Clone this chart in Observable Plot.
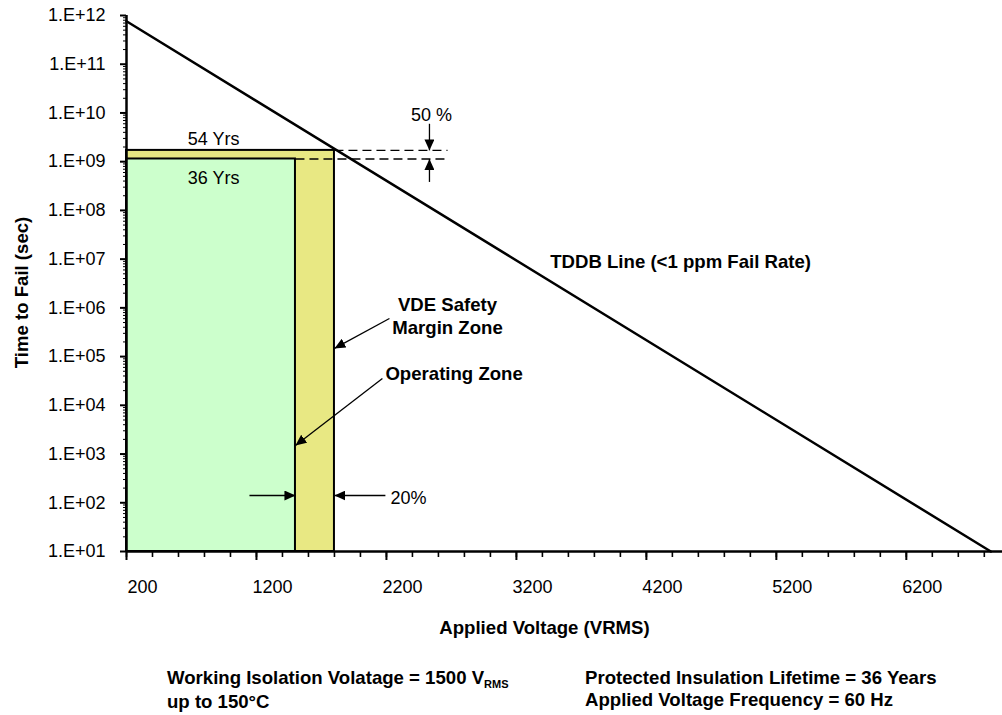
<!DOCTYPE html>
<html><head><meta charset="utf-8">
<script src="https://cdn.jsdelivr.net/npm/d3@7"></script>
<script src="https://cdn.jsdelivr.net/npm/@observablehq/plot@0.6"></script>
<style>
body{margin:0;background:#fff;font-family:"Liberation Sans",Arial,sans-serif;}
#wrap{position:relative;width:1002px;height:715px;overflow:hidden;}
.note{position:absolute;font-weight:bold;font-size:18.6px;line-height:22px;white-space:nowrap;color:#000;}
.sub{font-size:11px;position:relative;top:4px;}
</style></head><body>
<div id="wrap"><div id="chart"></div>
<div class="note" style="left:167px;top:667px">Working Isolation Volatage = 1500 V<span class="sub">RMS</span><br>up to 150°C</div>
<div class="note" style="left:585px;top:667px">Protected Insulation Lifetime = 36 Years<br>Applied Voltage Frequency = 60 Hz</div>
</div>
<script>
// ---- data ----
const xMajorTicks = [200, 1200, 2200, 3200, 4200, 5200, 6200];
const xMinorTicks = d3.range(200, 7000, 200);
const yDecadeTicks = [1e1, 1e2, 1e3, 1e4, 1e5, 1e6, 1e7, 1e8, 1e9, 1e10, 1e11, 1e12];
const yMinorTicks = yDecadeTicks.slice(0, -1).flatMap(d => [2,3,4,5,6,7,8,9].map(k => k * d));

const tddbVoltage = [200, 6850];
const tddbTimeSec = [7.6e11, 10];

const SECONDS_PER_YEAR = 3.15576e7;
const zoneNames = ["VDE Safety Margin Zone", "Operating Zone"];
const zoneVoltage = [1800, 1500];
const zoneYears = [54, 36];
const zoneFills = ["#e8e883", "#ccffcc"];
const zoneFloor = 10;

const labelText = ["54 Yrs", "36 Yrs", "50 %", "20%"];
const labelVoltage = [870, 870, 2546, 2231];
const labelTime = [3.1e9, 5.0e8, 9.6e9, 135];
const labelAnchor = ["middle", "middle", "middle", "start"];

const boldText = ["TDDB Line (<1 ppm Fail Rate)", "VDE Safety\nMargin Zone", "Operating Zone"];
const boldVoltage = [3460, 2670, 2192];
const boldTime = [9.3e6, 7.1e5, 4.72e4];
const boldAnchor = ["start", "middle", "start"];

const arrowFromV = [2531, 2531, 2223, 2169, 1146, 2192];
const arrowFromT = [6.0e9, 3.84e8, 6.05e5, 3.56e4, 141, 141];
const arrowToV   = [2531, 2531, 1800, 1500, 1500, 1800];
const arrowToT   = [54 * SECONDS_PER_YEAR, 36 * SECONDS_PER_YEAR, 1.47e5, 1.5e3, 141, 141];

const dashFromV = [1800, 1500];
const dashToV = [2670, 2670];
const dashYears = [54, 36];

// ---- tables ----
const tddb = tddbVoltage.map((v, i) => ({v, t: tddbTimeSec[i]}));
const zones = zoneNames.map((name, i) => ({name, v1: 200, v2: zoneVoltage[i], t1: zoneFloor, t2: zoneYears[i] * SECONDS_PER_YEAR, fill: zoneFills[i]}));
const labels = labelText.map((text, i) => ({text, v: labelVoltage[i], t: labelTime[i], anchor: labelAnchor[i]}));
const bolds = boldText.map((text, i) => ({text, v: boldVoltage[i], t: boldTime[i], anchor: boldAnchor[i]}));
const arrows = arrowFromV.map((v1, i) => ({v1, t1: arrowFromT[i], v2: arrowToV[i], t2: arrowToT[i]}));
const dashes = dashFromV.map((v1, i) => ({v1, v2: dashToV[i], t: dashYears[i] * SECONDS_PER_YEAR}));

const yFmt = d => "1.E+" + String(Math.round(Math.log10(d))).padStart(2, "0");
const FONT = "Liberation Sans, Arial, sans-serif";

const textMarks = (rows, weight, size) => ["start", "middle"].map(a => Plot.text(rows.filter(r => r.anchor === a), {
  x: "v", y: "t", text: "text", textAnchor: a, fontSize: size, fontWeight: weight, fill: "#000", lineHeight: 1.25, fontFamily: FONT
}));

const chart = Plot.plot({
  width: 1002,
  height: 650,
  marginLeft: 126,
  marginRight: 0,
  marginTop: 15,
  marginBottom: 99,
  style: {fontFamily: FONT, fontSize: "18px", color: "#000", background: "#fff", overflow: "visible"},
  x: {domain: [200, 6940]},
  y: {type: "log", domain: [10, 1e12]},
  marks: [
    Plot.rect(zones, {x1: "v1", x2: "v2", y1: "t1", y2: "t2", fill: "fill", stroke: "#000", strokeWidth: 2}),
    Plot.link(dashes, {x1: "v1", x2: "v2", y1: "t", y2: "t", stroke: "#000", strokeWidth: 1.3, strokeDasharray: "9,5"}),
    Plot.line(tddb, {x: "v", y: "t", stroke: "#000", strokeWidth: 2.5}),
    Plot.link(arrows, {x1: "v1", y1: "t1", x2: "v2", y2: "t2", stroke: "#000", strokeWidth: 1.3, markerEnd: "arrow"}),
    ...textMarks(labels, "normal", 18),
    ...textMarks(bolds, "bold", 18.6),
    // axes
    Plot.axisX({ticks: xMinorTicks, tickSize: 6, tickFormat: () => "", stroke: "#000", strokeWidth: 1.6}),
    Plot.axisX({ticks: xMajorTicks, tickSize: 9, tickFormat: () => "", stroke: "#000", strokeWidth: 2}),
    Plot.axisX({ticks: xMajorTicks, tickSize: 0, tickPadding: 29, dx: 16, fontSize: 18, tickFormat: d => String(d)}),
    Plot.axisY({ticks: yMinorTicks, tickSize: 3, tickFormat: () => "", stroke: "#000", strokeWidth: 1}),
    Plot.axisY({ticks: yDecadeTicks, tickSize: 6, tickFormat: () => "", stroke: "#000", strokeWidth: 2}),
    Plot.axisY({ticks: yDecadeTicks, tickSize: 0, tickPadding: 21, fontSize: 18, tickFormat: yFmt}),
    Plot.ruleX([200], {stroke: "#000", strokeWidth: 2.5}),
    Plot.ruleY([10], {stroke: "#000", strokeWidth: 2.5}),
    Plot.text(["Time to Fail (sec)"], {frameAnchor: "left", rotate: -90, dx: -104, dy: 9, fontSize: 18.6, fontWeight: "bold", textAnchor: "middle", lineAnchor: "middle", fontFamily: FONT}),
    Plot.text(["Applied Voltage (VRMS)"], {frameAnchor: "bottom", dx: -20, dy: 77, fontSize: 18.6, fontWeight: "bold", textAnchor: "middle", lineAnchor: "middle", fontFamily: FONT})
  ]
});

// filled triangular arrowheads
d3.select(chart).selectAll("marker").each(function () {
  const m = d3.select(this);
  m.attr("viewBox", "-11 -5 11 10").attr("markerWidth", 11).attr("markerHeight", 10)
   .attr("markerUnits", "userSpaceOnUse").attr("refX", 0).attr("refY", 0)
   .attr("fill", "#000").attr("stroke", "none");
  m.selectAll("*").remove();
  m.append("path").attr("d", "M-11,-5L0,0L-11,5Z");
});

document.getElementById("chart").appendChild(chart);
</script>
</body></html>
